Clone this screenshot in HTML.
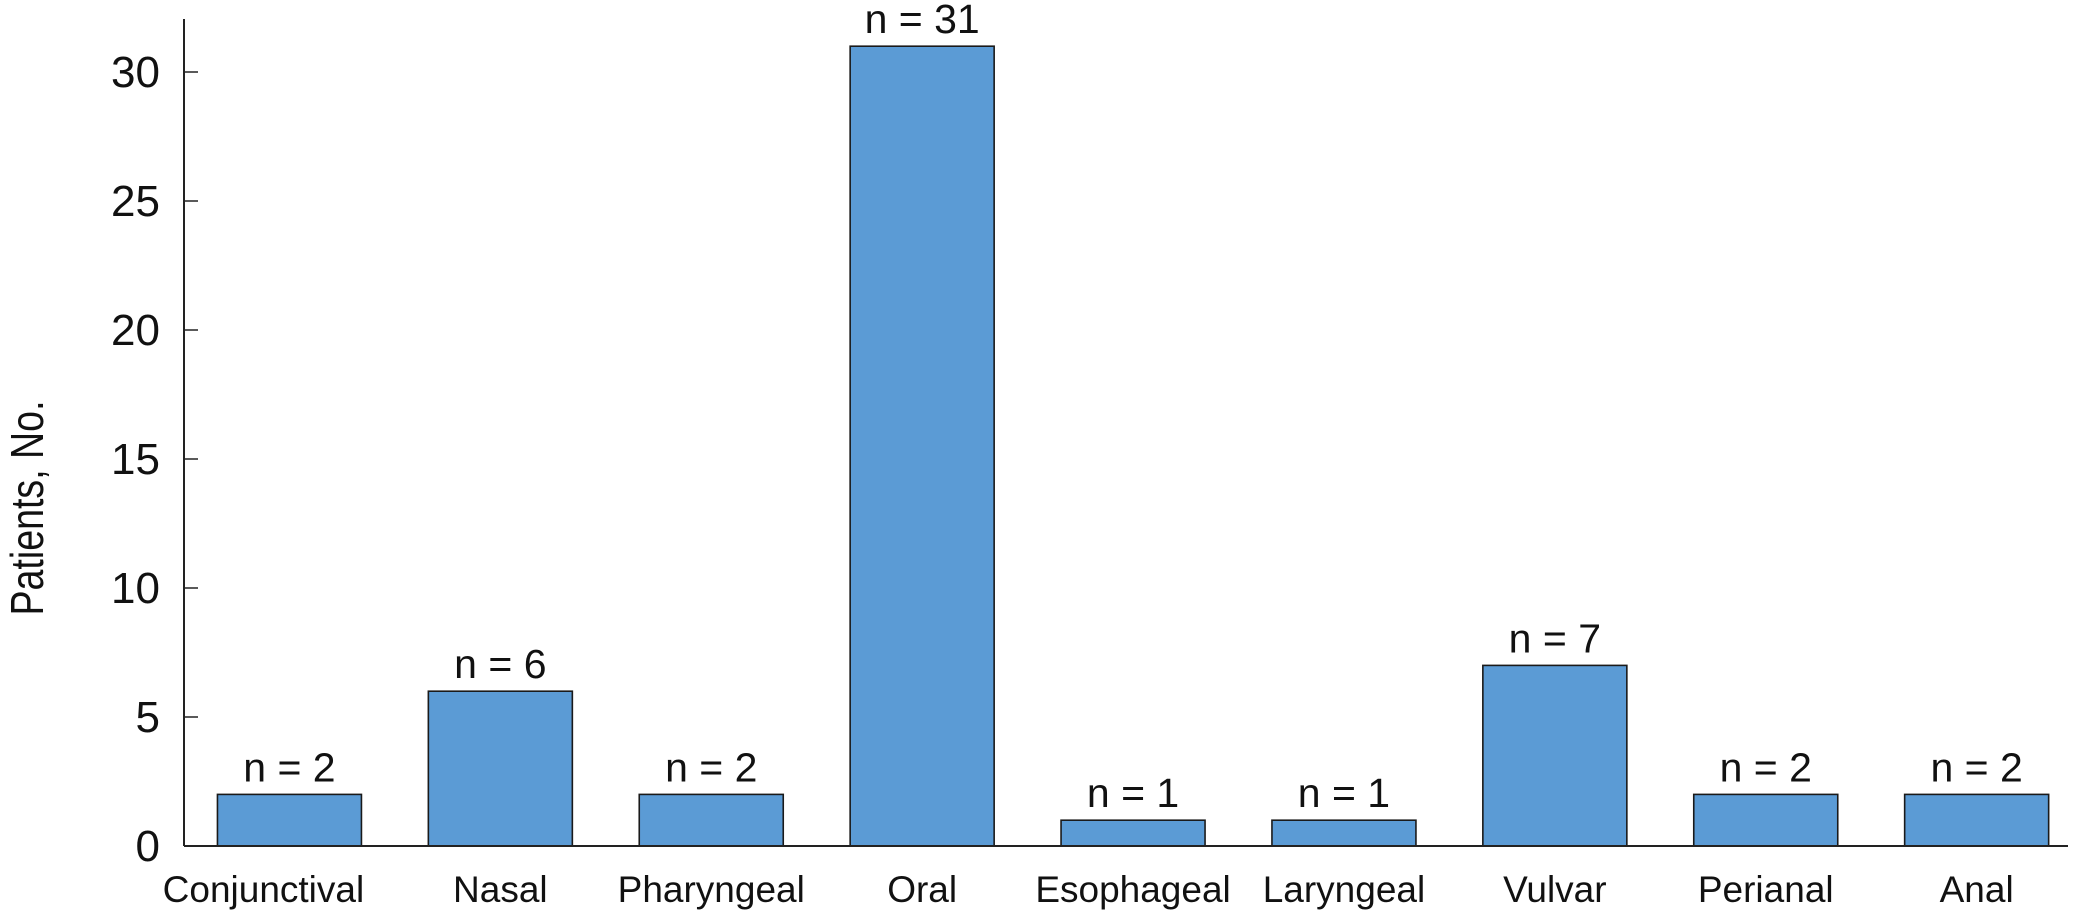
<!DOCTYPE html>
<html><head><meta charset="utf-8"><style>
html,body{margin:0;padding:0;background:#fff;}
svg{display:block;}
text{font-family:"Liberation Sans",Arial,sans-serif;fill:#111;}
</style></head><body>
<svg id="chart" width="2095" height="913" viewBox="0 0 2095 913" xmlns="http://www.w3.org/2000/svg">
<g id="yaxis"></g>
<g id="bars"></g>
<g id="xaxis"></g>
<text transform="translate(43,508) rotate(-90)" text-anchor="middle" font-size="46" textLength="215" lengthAdjust="spacingAndGlyphs" style="font-family:'Liberation Sans Narrow','Liberation Sans',sans-serif">Patients, No.</text>
</svg>
<script>
const categories = ["Conjunctival","Nasal","Pharyngeal","Oral","Esophageal","Laryngeal","Vulvar","Perianal","Anal"];
const values = [2,6,2,31,1,1,7,2,2];
const yTicks = [0,5,10,15,20,25,30];

const NS = "http://www.w3.org/2000/svg";
const x0 = 184, x1 = 2068, yBase = 846, yTop30 = 72, axisTop = 19;
const band = 210.9;
const barW = 144;
function yScale(v){ return yBase - v * (yBase - yTop30) / 30; }
function xCenter(i){ return x0 + band * (i + 0.5); }
function mk(tag, attrs, parent){ const e = document.createElementNS(NS, tag); for (const k in attrs) e.setAttribute(k, attrs[k]); parent.appendChild(e); return e; }

const ya = document.getElementById('yaxis');
const yl = mk('line', {x1:x0, y1:axisTop, x2:x0, y2:yBase, stroke:'#222', 'stroke-width':2}, ya);


yTicks.forEach(t => {
  const y = yScale(t);
  const tk = mk('line', {x1:x0, y1:y, x2:x0+14, y2:y, stroke:'#222', 'stroke-width':1.5}, ya);
  
  
  const lb = mk('text', {x:160, y:y+15, 'text-anchor':'end', 'font-size':44}, ya);
  lb.textContent = t;
  
  
});

const bg = document.getElementById('bars');
values.forEach((v, i) => {
  const cx = xCenter(i);
  const r = mk('rect', {x:cx-barW/2, y:yScale(v), width:barW, height:yBase-yScale(v), fill:'#5b9bd5', stroke:'#1a1a1a', 'stroke-width':1.6}, bg);
  
  
  const nl = mk('text', {x:cx, y:yScale(v)-13, 'text-anchor':'middle', 'font-size':41}, bg);
  nl.textContent = 'n = ' + v;
  
  
});

const xa = document.getElementById('xaxis');
const xl = mk('line', {x1:x0, y1:yBase, x2:x1, y2:yBase, stroke:'#222', 'stroke-width':2}, xa);


categories.forEach((c, i) => {
  const t = mk('text', {x:xCenter(i) - (i === 0 ? 26 : 0), y:902, 'text-anchor':'middle', 'font-size':37}, xa);
  t.textContent = c;
  
  
});
</script>
</body></html>
